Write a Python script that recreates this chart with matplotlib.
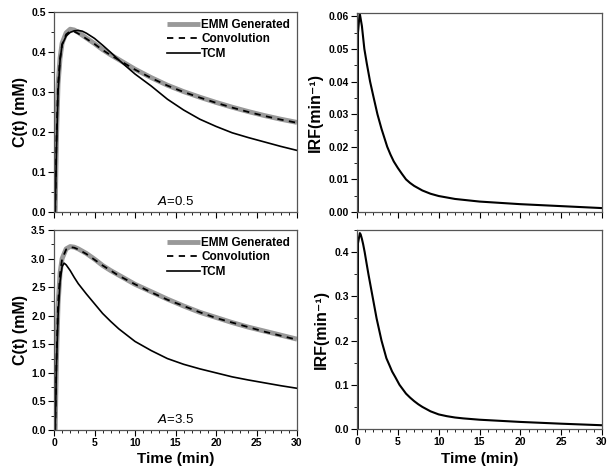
import matplotlib
matplotlib.use("Agg")
from matplotlib import pyplot as plt
from matplotlib.ticker import MultipleLocator, AutoMinorLocator

plt.rcParams['font.family'] = ['Liberation Sans', 'DejaVu Sans']

# ---- A = 0.5 concentration curves (mM) ----
t_a05 = [0.15, 0.3, 0.5, 0.75, 1.0, 1.5, 2.0, 2.5, 3, 4, 5, 6, 7, 8, 10, 12, 14, 16, 18, 20, 22, 24, 26, 28, 30]
emm_a05 = [0, 0.18, 0.32, 0.385, 0.422, 0.448, 0.457, 0.455, 0.449, 0.435, 0.421, 0.406, 0.393, 0.381, 0.357, 0.336, 0.317, 0.301, 0.287, 0.274, 0.262, 0.251, 0.241, 0.232, 0.224]
conv_a05 = [0, 0.18, 0.32, 0.383, 0.419, 0.444, 0.452, 0.451, 0.446, 0.433, 0.420, 0.405, 0.392, 0.380, 0.356, 0.335, 0.316, 0.300, 0.286, 0.273, 0.261, 0.250, 0.240, 0.231, 0.223]
t_tcm05 = [0.15, 0.3, 0.5, 0.75, 1.0, 1.5, 2.0, 2.5, 3, 3.5, 4, 5, 6, 7, 8, 10, 12, 14, 16, 18, 20, 22, 24, 26, 28, 30]
tcm_a05 = [0, 0.15, 0.30, 0.38, 0.418, 0.440, 0.449, 0.453, 0.454, 0.452, 0.447, 0.434, 0.417, 0.399, 0.380, 0.345, 0.315, 0.282, 0.255, 0.232, 0.214, 0.198, 0.186, 0.175, 0.164, 0.154]

# ---- A = 3.5 concentration curves (mM) ----
t_a35 = [0.15, 0.3, 0.5, 0.75, 1.0, 1.5, 2.0, 2.5, 3, 4, 5, 6, 7, 8, 10, 12, 14, 16, 18, 20, 22, 24, 26, 28, 30]
emm_a35 = [0, 1.2, 2.2, 2.75, 3.0, 3.17, 3.21, 3.20, 3.17, 3.09, 2.99, 2.88, 2.79, 2.71, 2.55, 2.42, 2.29, 2.17, 2.06, 1.97, 1.88, 1.80, 1.73, 1.66, 1.59]
conv_a35 = [0, 1.2, 2.2, 2.74, 2.99, 3.16, 3.20, 3.19, 3.16, 3.08, 2.98, 2.88, 2.79, 2.70, 2.55, 2.41, 2.28, 2.17, 2.06, 1.96, 1.88, 1.80, 1.72, 1.65, 1.58]
t_tcm35 = [0.15, 0.3, 0.5, 0.75, 1.0, 1.25, 1.5, 2, 2.5, 3, 4, 5, 6, 7, 8, 10, 12, 14, 16, 18, 20, 22, 24, 26, 28, 30]
tcm_a35 = [0, 1.1, 2.0, 2.6, 2.86, 2.92, 2.89, 2.79, 2.67, 2.56, 2.38, 2.21, 2.04, 1.90, 1.77, 1.55, 1.39, 1.25, 1.15, 1.07, 1.00, 0.93, 0.875, 0.825, 0.775, 0.73]

# ---- impulse response functions (1/min) ----
t_irf1 = [0.1, 0.12, 0.33, 0.6, 0.9, 1.2, 1.6, 2.0, 2.5, 3.0, 3.7, 4.1, 4.5, 5, 5.5, 6, 6.5, 7, 7.5, 8, 9, 10, 12, 15, 20, 25, 30]
irf1 = [0, 0.055, 0.061, 0.057, 0.050, 0.0455, 0.040, 0.0355, 0.030, 0.0255, 0.020, 0.0176, 0.0155, 0.0135, 0.0117, 0.010, 0.0089, 0.0080, 0.0073, 0.0066, 0.0056, 0.0049, 0.0040, 0.0032, 0.0024, 0.0018, 0.0012]
t_irf2 = [0.1, 0.12, 0.35, 0.45, 0.6, 0.75, 0.94, 1.15, 1.4, 1.65, 1.9, 2.1, 2.4, 2.7, 3.0, 3.3, 3.6, 4.0, 4.3, 4.7, 5.2, 5.6, 6, 6.5, 7, 7.5, 8, 8.5, 9, 10, 11, 12, 13, 15, 20, 25, 30]
irf2 = [0, 0.42, 0.443, 0.440, 0.43, 0.418, 0.40, 0.377, 0.35, 0.325, 0.30, 0.28, 0.25, 0.225, 0.20, 0.18, 0.16, 0.143, 0.13, 0.117, 0.10, 0.09, 0.080, 0.071, 0.063, 0.056, 0.050, 0.045, 0.040, 0.033, 0.029, 0.026, 0.024, 0.021, 0.016, 0.012, 0.0085]

fig = plt.figure(figsize=(6.1, 4.76), dpi=100)
W, H = 610, 476
def add_ax(x0, y0, x1, y1):
    return fig.add_axes([x0 / W, 1 - y1 / H, (x1 - x0) / W, (y1 - y0) / H])

ax1 = add_ax(54, 12, 297, 212)
ax2 = add_ax(357, 13, 602, 212)
ax3 = add_ax(54, 230, 297, 430)
ax4 = add_ax(357, 230, 602, 429)

def style(ax, ymax, ymajor, yfmt):
    ax.set_xlim(0, 30)
    ax.set_ylim(0, ymax)
    ax.xaxis.set_major_locator(MultipleLocator(5))
    ax.xaxis.set_minor_locator(MultipleLocator(1))
    ax.yaxis.set_major_locator(MultipleLocator(ymajor))
    ax.yaxis.set_minor_locator(AutoMinorLocator(2))
    ax.yaxis.set_major_formatter(yfmt)
    ax.tick_params(which='major', direction='out', length=4, width=0.8, labelsize=7.5, pad=2)
    ax.tick_params(which='minor', direction='out', length=2, width=0.6)
    for lab in ax.get_xticklabels() + ax.get_yticklabels():
        lab.set_fontweight('bold')
    for s in ax.spines.values():
        s.set_color('#555555')
        s.set_linewidth(0.9)

def conc_panel(ax, t, emm, conv, tt, tcm, label):
    ax.plot(t, emm, color='#999999', lw=3.5, label='EMM Generated', solid_capstyle='butt')
    ax.plot(t, conv, color='black', lw=1.3, ls=(0, (3.5, 3)), label='Convolution')
    ax.plot(tt, tcm, color='black', lw=1.2, label='TCM')
    ax.legend(loc='upper right', frameon=False, handlelength=2.8,
              handletextpad=0.1, labelspacing=0.2, borderaxespad=0.2,
              prop={'weight': 'bold', 'size': 8.5})
    ax.text(0.5, 0.02, label, transform=ax.transAxes, ha='center', va='bottom', fontsize=9.5)
    ax.set_ylabel('C(t) (mM)', fontsize=11.5, fontweight='bold', labelpad=2)

style(ax1, 0.5, 0.1, '{x:.1f}')
conc_panel(ax1, t_a05, emm_a05, conv_a05, t_tcm05, tcm_a05, r'$\it{A}$=0.5')
ax1.set_xticklabels([])

style(ax3, 3.5, 0.5, '{x:.1f}')
conc_panel(ax3, t_a35, emm_a35, conv_a35, t_tcm35, tcm_a35, r'$\it{A}$=3.5')
ax3.set_xlabel('Time (min)', fontsize=11, fontweight='bold', labelpad=3)

style(ax2, 0.061, 0.01, '{x:.2f}')
ax2.plot(t_irf1, irf1, color='black', lw=1.5)
ax2.set_xticklabels([])
ax2.set_ylabel('IRF(min\u207b\u00b9)', fontsize=11.5, fontweight='bold', labelpad=4)

style(ax4, 0.45, 0.1, '{x:.1f}')
ax4.plot(t_irf2, irf2, color='black', lw=1.5)
ax4.set_ylabel('IRF(min\u207b\u00b9)', fontsize=11.5, fontweight='bold', labelpad=4)
ax4.set_xlabel('Time (min)', fontsize=11, fontweight='bold', labelpad=3)

fig.savefig('out.png', dpi=100)
